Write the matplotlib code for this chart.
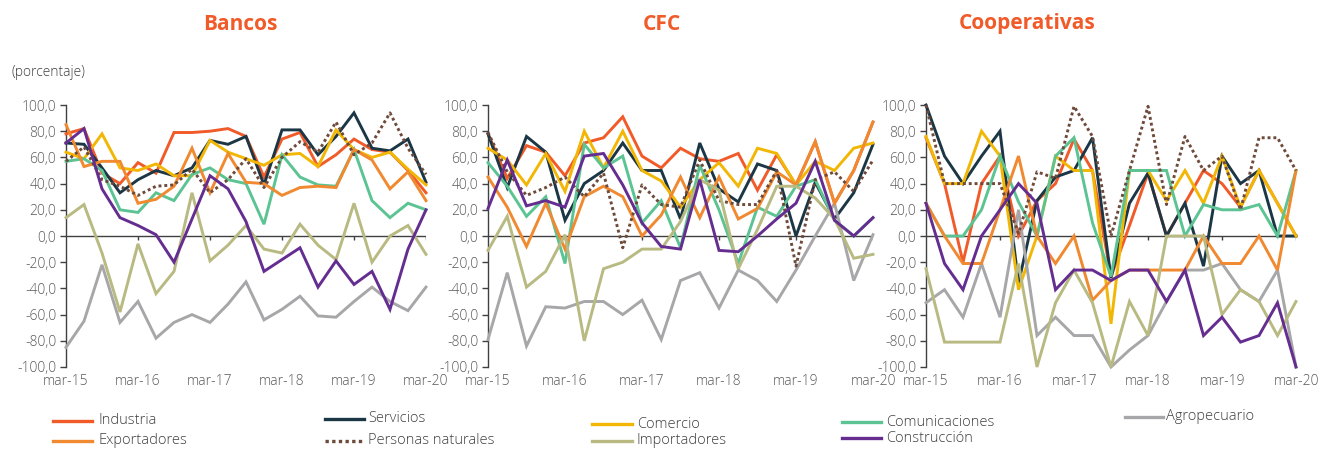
import numpy as np
import matplotlib.pyplot as plt
from matplotlib.lines import Line2D

plt.rcParams['font.family'] = ['Open Sans', 'DejaVu Sans']

W, H = 1325, 449

# quarterly data, mar-15 .. mar-20 (21 points)
tick_labels = ['mar-15', 'mar-16', 'mar-17', 'mar-18', 'mar-19', 'mar-20']
panel_titles = ['Bancos', 'CFC', 'Cooperativas']

bancos = {
    'Industria':          [78, 82, 48, 40, 56, 48, 79, 79, 80, 82, 76, 45, 74, 79, 53, 62, 74, 66, 64, 50, 33],
    'Servicios':          [71, 70, 52, 33, 43, 50, 46, 52, 73, 70, 76, 39, 81, 81, 62, 76, 94, 67, 65, 74, 41],
    'Comercio':           [64, 59, 78, 52, 50, 55, 46, 46, 73, 64, 59, 54, 62, 63, 53, 81, 66, 60, 64, 51, 39],
    'Comunicaciones':     [57, 59, 50, 20, 18, 33, 27, 47, 52, 43, 40, 9, 62, 45, 39, 38, 66, 27, 14, 25, 20],
    'Agropecuario':       [-85, -65, -22, -66, -50, -78, -66, -60, -66, -52, -35, -64, -56, -46, -61, -62, -50, -39, -50, -57, -39],
    'Exportadores':       [85, 53, 57, 57, 25, 28, 38, 67, 33, 63, 41, 40, 31, 37, 38, 37, 66, 58, 36, 49, 27],
    'Personas naturales': [57, 68, 43, 38, 31, 38, 39, 51, 33, 43, 59, 37, 60, 72, 64, 87, 62, 71, 94, 67, 47],
    'Importadores':       [14, 24, -13, -58, -6, -44, -27, 33, -19, -7, 8, -10, -13, 9, -7, -18, 25, -20, 0, 8, -14],
    'Construcción':       [71, 82, 36, 14, 8, 1, -20, 13, 46, 36, 11, -27, -18, -9, -39, -19, -37, -27, -56, -10, 20],
}

cfc = {
    'Industria':          [78, 44, 69, 64, 46, 71, 75, 91, 61, 52, 67, 59, 57, 63, 35, 62, 39, 72, 25, 50, 87],
    'Servicios':          [78, 37, 76, 64, 12, 40, 50, 71, 50, 50, 13, 71, 36, 26, 55, 50, 0, 41, 13, 33, 70],
    'Comercio':           [67, 58, 39, 63, 34, 80, 52, 80, 50, 42, 22, 43, 56, 38, 67, 63, 39, 57, 50, 67, 71],
    'Comunicaciones':     [56, 38, 15, 30, -21, 70, 52, 61, 10, 27, -9, 54, 20, -21, 22, 15, 38, 43, 12, 0, 14],
    'Agropecuario':       [-79, -28, -84, -54, -55, -50, -50, -60, -49, -79, -34, -28, -55, -26, -34, -50, -26, 0, 25, -34, 1],
    'Exportadores':       [45, 22, -8, 25, -10, 30, 38, 30, 0, 16, 45, 14, 45, 13, 21, 49, 39, 72, 25, 50, 87],
    'Personas naturales': [79, 49, 31, 37, 45, 30, 48, -9, 39, 24, 22, 58, 27, 24, 24, 50, -23, 43, 49, 34, 58],
    'Importadores':       [-11, 15, -39, -27, 1, -80, -25, -20, -10, -10, 11, 43, 35, -25, 5, 38, 38, 29, 13, -17, -14],
    'Construcción':       [21, 58, 23, 27, 22, 61, 63, 39, 10, -8, -10, 43, -11, -12, 0, 13, 25, 57, 12, 0, 14],
}

cooperativas = {
    'Industria':          [75, 40, -20, 40, 61, 0, 27, 40, 74, 50, -31, 8, 48, 0, 25, 50, 40, 22, 50, 25, 0],
    'Servicios':          [100, 61, 40, 61, 80, -36, 27, 45, 50, 75, -32, 25, 48, 0, 25, -23, 61, 40, 50, 0, 0],
    'Comercio':           [76, 40, 40, 80, 61, -41, 0, 61, 50, 50, -67, 50, 50, 27, 50, 25, 61, 22, 50, 25, 0],
    'Comunicaciones':     [25, 0, 0, 20, 61, 26, 0, 61, 75, 10, -31, 50, 50, 50, 0, 24, 20, 20, 24, 0, 50],
    'Agropecuario':       [-51, -41, -62, -21, -62, 20, -76, -62, -76, -76, -100, -87, -76, -50, -26, -26, -21, -41, -50, -26, -100],
    'Exportadores':       [25, 0, -21, -21, 20, 61, 0, -21, 0, -49, -34, -26, -26, -26, -26, 0, -21, -21, 0, -26, 50],
    'Personas naturales': [100, 40, 40, 40, 40, 2, 49, 44, 99, 76, 0, 50, 99, 24, 76, 50, 61, 20, 75, 75, 50],
    'Importadores':       [-25, -81, -81, -81, -81, -21, -100, -51, -26, -51, -100, -50, -76, 0, 0, 0, -60, -41, -50, -76, -50],
    'Construcción':       [25, -21, -41, 0, 20, 40, 25, -41, -26, -26, -34, -26, -26, -50, -26, -76, -62, -81, -76, -51, -100],
}

colors = {
    'Industria': '#F15A29',
    'Exportadores': '#F0892F',
    'Servicios': '#1B3645',
    'Personas naturales': '#6E4A3B',
    'Comercio': '#F2B705',
    'Importadores': '#B8BA82',
    'Comunicaciones': '#5CC393',
    'Construcción': '#652D90',
    'Agropecuario': '#A7A7A9',
}

fig = plt.figure(figsize=(W / 100, H / 100), dpi=100)

# axes boxes in pixels: left, right, top, bottom
boxes = [(66, 426, 105, 367), (488, 873, 105, 367), (926, 1296, 105, 367)]
title_x = [240, 662, 1027]
grey = '#595959'

for data, box, title, tx in zip([bancos, cfc, cooperativas], boxes, panel_titles, title_x):
    l, r, t, b = box
    ax = fig.add_axes([l / W, 1 - b / H, (r - l) / W, (b - t) / H])
    x = np.arange(21)
    for name, vals in data.items():
        ls = (0, (1, 1)) if name == 'Personas naturales' else '-'
        ax.plot(x, vals, color=colors[name], lw=2.1, ls=ls, clip_on=False, zorder=3,
                solid_joinstyle='miter')
    ax.set_xlim(0, 20)
    ax.set_ylim(-100, 100)
    for s in ['top', 'right', 'bottom']:
        ax.spines[s].set_visible(False)
    ax.spines['left'].set_color('#404040')
    ax.spines['left'].set_linewidth(1)
    ax.axhline(0, color='#404040', lw=1, zorder=1)
    ax.vlines([4, 8, 12, 16, 20], -3, 0, color='#404040', lw=1, zorder=1)
    ax.set_yticks(np.arange(-100, 101, 20))
    ax.set_yticklabels([f'{v:.1f}'.replace('.', ',') for v in np.arange(-100, 101, 20)],
                       fontweight='light')
    ax.set_xticks([0, 4, 8, 12, 16, 20])
    ax.set_xticklabels(tick_labels, fontweight='light')
    ax.tick_params(axis='y', length=4, width=1, color='#404040', labelsize=10, labelcolor=grey, pad=3)
    ax.tick_params(axis='x', length=0, labelsize=10, labelcolor=grey, pad=5)
    fig.text(tx / W, 1 - 24 / H, title, ha='center', va='center', fontsize=15,
             fontweight='bold', color='#F15A29')

fig.text(12 / W, 1 - 73 / H, '(porcentaje)', ha='left', va='center', fontsize=10,
         color='#404040', fontweight='light')

# legend drawn by hand to match placement
legend_items = [
    ('Industria', 53, 92, 98, 421),
    ('Exportadores', 53, 92, 98, 441),
    ('Servicios', 325, 364, 368, 419),
    ('Personas naturales', 325, 364, 368, 441),
    ('Comercio', 592, 632, 637, 424),
    ('Importadores', 592, 632, 637, 441),
    ('Comunicaciones', 842, 881, 886, 422),
    ('Construcción', 842, 881, 886, 438),
    ('Agropecuario', 1125, 1163, 1166, 417),
]
for name, x0, x1, xt, y in legend_items:
    ls = (0, (1, 1)) if name == 'Personas naturales' else '-'
    fig.add_artist(Line2D([x0 / W, x1 / W], [1 - y / H, 1 - y / H], transform=fig.transFigure,
                          color=colors[name], lw=2.4, ls=ls))
    fig.text(xt / W, 1 - y / H, name, ha='left', va='center', fontsize=10.5, color='#404040',
             fontweight='light')

fig.savefig('out.png', dpi=100)
